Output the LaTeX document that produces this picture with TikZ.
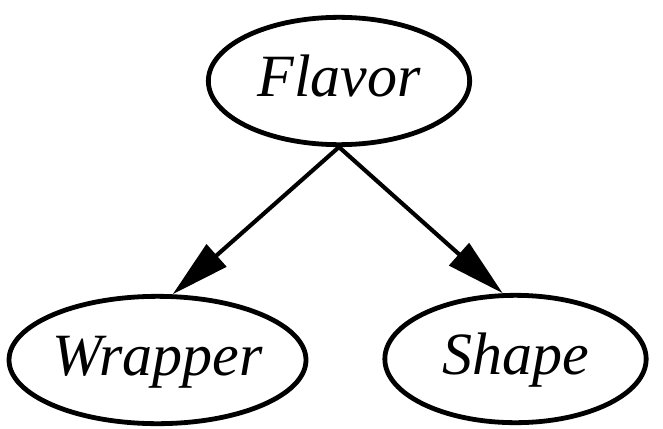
\documentclass[tikz,border=0pt]{standalone}
\usepackage{fontspec}
\setmainfont{Liberation Serif}
\usetikzlibrary{shapes.geometric,arrows.meta}
\begin{document}
\begin{tikzpicture}[x=0.75pt,y=-0.75pt,
  var/.style={ellipse,draw,line width=3.6pt,minimum width=196pt,minimum height=95.5pt,inner sep=0pt,
    font=\fontsize{45}{54}\selectfont\itshape,text height=31.5pt,text depth=9pt},
  edgearrow/.style={line width=3.1pt,-{Triangle[length=44pt,width=22pt]}}]
\useasboundingbox (0,0) rectangle (663,428);
\node[var] (F) at (339,81) {Flavor};
\node[var] (W) at (157.5,360) {Wrapper};
\node[var] (S) at (515.5,359) {Shape};
\draw[edgearrow] (F.south) -- (W.77);
\draw[edgearrow] (F.south) -- (S.101);
\end{tikzpicture}
\end{document}
